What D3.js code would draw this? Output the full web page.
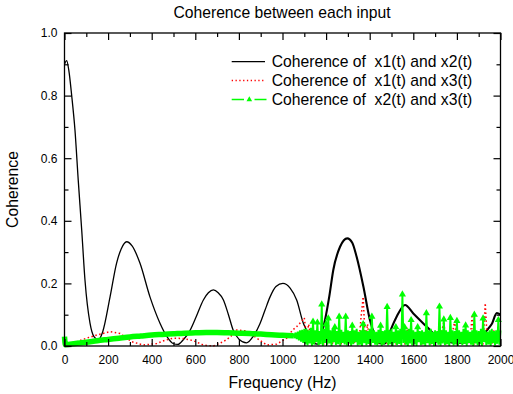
<!DOCTYPE html>
<html><head><meta charset="utf-8">
<script src="https://cdn.jsdelivr.net/npm/d3@7"></script>
<style>body{margin:0;background:#fff}svg{display:block}text{font-family:"Liberation Sans",Arial,sans-serif}</style>
</head><body><svg id="c" width="513" height="394"></svg>
<script>
// ---------- data ----------
const titleText = "Coherence between each input";
const xLabel = "Frequency (Hz)";
const yLabel = "Coherence";
const xTicks = [0,200,400,600,800,1000,1200,1400,1600,1800,2000];
const xMinor = [100,300,500,700,900,1100,1300,1500,1700,1900];
const yTicks = [0,0.2,0.4,0.6,0.8,1.0];
const yMinor = [0.1,0.3,0.5,0.7,0.9];
const legendLabels = ["Coherence of  x1(t) and x2(t)","Coherence of  x1(t) and x3(t)","Coherence of  x2(t) and x3(t)"];

// x1-x2 coherence (black)
const blackFreq = [0,10,20,33,48,63,79,94,117,135,155,175,209,239,260,285,310,346,392,438,470,498,520,545,576,605,637,660,683,705,729,752,774,800,835,865,897,920,943,970,1002,1035,1065,1096,1111,1140,1165,1195,1215,1233,1264,1297,1320,1340,1371,1401,1420,1440,1470,1493,1524,1562,1600,1646,1684,1710,1750,1800,1850,1900,1937,1960,1983,2000];
const blackVal  = [0.90,0.912,0.88,0.80,0.69,0.53,0.37,0.21,0.073,0.03,0.02,0.045,0.157,0.265,0.31,0.333,0.32,0.265,0.157,0.073,0.03,0.008,0.005,0.02,0.05,0.095,0.147,0.17,0.179,0.17,0.147,0.10,0.05,0.022,0.01,0.03,0.072,0.115,0.157,0.19,0.20,0.185,0.147,0.072,0.05,0.01,0.005,0.083,0.16,0.243,0.317,0.344,0.33,0.285,0.19,0.083,0.04,0.01,0.008,0.046,0.094,0.131,0.104,0.072,0.046,0.025,0.015,0.01,0.012,0.015,0.05,0.07,0.105,0.10];

// x1-x3 coherence (red), smooth part
const redFreq = [0,50,101,148,209,255,308,361,423,460,498,545,591,637,683,729,759,790,836,882,928,974,1019,1045,1065,1090];
const redVal  = [0.008,0.012,0.025,0.035,0.046,0.04,0.014,0.003,0.008,0.018,0.025,0.024,0.017,0.003,0.0,0.014,0.028,0.051,0.048,0.025,0.003,0.006,0.025,0.05,0.062,0.08];
// x1-x3 coherence (red), noisy part 1100..2000 every 10 Hz
const redNoise = [0.09,0.03,0.07,0.02,0.05,0.01,0.045,0.01,0.04,0.005,0.06,0.01,0.045,0.005,0.04,0.01,0.05,0.005,0.035,0.01,0.045,0.005,0.04,0.01,0.05,0.005,0.09,0.157,0.01,0.07,0.005,0.06,0.01,0.04,0.005,0.045,0.01,0.035,0.005,0.04,0.01,0.045,0.005,0.05,0.01,0.04,0.005,0.06,0.01,0.045,0.005,0.04,0.01,0.035,0.005,0.04,0.01,0.045,0.005,0.04,0.01,0.035,0.005,0.045,0.078,0.005,0.04,0.01,0.045,0.08,0.005,0.04,0.01,0.035,0.005,0.045,0.01,0.1,0.005,0.04,0.01,0.045,0.005,0.137,0.01,0.04,0.005,0.05,0.01,0.045,0.03];

// x2-x3 coherence (green), smooth part
const greenFreq = [0,4,50,100,150,200,250,300,350,400,450,500,550,600,650,700,750,800,850,900,950,1000,1050];
const greenVal  = [0.03,0.004,0.008,0.012,0.017,0.021,0.025,0.029,0.032,0.035,0.037,0.039,0.041,0.042,0.043,0.043,0.042,0.041,0.04,0.038,0.036,0.034,0.033];
// green noisy part: peaks every 10 Hz from 1050, troughs in between
const greenHi = [0.04,0.043,0.046,0.05,0.052,0.055,0.055,0.05,0.058,0.078,0.05,0.075,0.048,0.133,0.055,0.07,0.088,0.05,0.055,0.06,0.048,0.094,0.052,0.045,0.094,0.05,0.048,0.065,0.05,0.055,0.045,0.05,0.07,0.05,0.048,0.055,0.094,0.05,0.045,0.052,0.065,0.048,0.05,0.125,0.05,0.055,0.045,0.06,0.05,0.055,0.165,0.06,0.05,0.055,0.083,0.05,0.045,0.06,0.048,0.05,0.045,0.105,0.05,0.055,0.045,0.05,0.048,0.126,0.05,0.085,0.05,0.045,0.09,0.05,0.048,0.08,0.05,0.045,0.055,0.066,0.05,0.045,0.05,0.1,0.05,0.048,0.055,0.088,0.05,0.045,0.05,0.055,0.048,0.05,0.083,0.05];
const greenLo = [0.025,0.022,0.018,0.014,0.01,0.006,0.002,0.008,0.0,0.005,0.012,0.002,0.006,0.0,0.01,0.004,0.008,0.0,0.012,0.003,0.006,0.0,0.01,0.005,0.002,0.008,0.0,0.006,0.012,0.002,0.004,0.0,0.009,0.003,0.007,0.0,0.01,0.004,0.002,0.008,0.0,0.005,0.011,0.002,0.006,0.0,0.009,0.003,0.007,0.001,0.01,0.004,0.0,0.008,0.002,0.006,0.0,0.012,0.003,0.005,0.0,0.009,0.002,0.007,0.0,0.01,0.004,0.001,0.008,0.003,0.006,0.0,0.011,0.002,0.005,0.0,0.009,0.003,0.007,0.001,0.01,0.004,0.0,0.008,0.002,0.006,0.0,0.012,0.003,0.005,0.0,0.009,0.002,0.007,0.004];

// ---------- chart ----------
const svg = d3.select("#c");
const x = d3.scaleLinear().domain([0,2000]).range([64.5,500.5]);
const y = d3.scaleLinear().domain([0,1]).range([346,33]);
const FS = 15.7;

// black
const blackPts = blackFreq.map((f,i)=>[f,blackVal[i]]);
const lineM = d3.line().x(d=>x(d[0])).y(d=>y(d[1])).curve(d3.curveMonotoneX);
const lineL = d3.line().x(d=>x(d[0])).y(d=>y(d[1]));
svg.append("path").attr("d",lineM(blackPts.filter(d=>d[0]<=1165))).attr("fill","none").attr("stroke","#000").attr("stroke-width",1.3);
svg.append("path").attr("d",lineM(blackPts.filter(d=>d[0]>=1165))).attr("fill","none").attr("stroke","#000").attr("stroke-width",2.1);

// red
const redPts = redFreq.map((f,i)=>[f,redVal[i]]).concat(redNoise.map((v,i)=>[1100+10*i,v]));
svg.append("path").attr("d",lineL(redPts)).attr("fill","none").attr("stroke","#ff0000").attr("stroke-width",1.5).attr("stroke-dasharray","1.5,2.5");

// green smooth
const greenPts = greenFreq.map((f,i)=>[f,greenVal[i]]);
svg.append("path").attr("d",lineM(greenPts)).attr("fill","none").attr("stroke","#00ff00").attr("stroke-width",5.5).attr("stroke-linejoin","round");
// green noisy zigzag
const gz = [];
greenHi.forEach((v,i)=>{gz.push([1050+10*i,v]); if(i<greenLo.length) gz.push([1055+10*i,greenLo[i]]);});
svg.append("path").attr("d",lineL(gz)).attr("fill","none").attr("stroke","#00ff00").attr("stroke-width",1.9);
const tri = d3.symbol().type(d3.symbolTriangle).size(22);
svg.selectAll(".gm").data(greenHi.map((v,i)=>[1050+10*i,v]).filter(d=>d[1]>0.058)).enter().append("path")
  .attr("d",tri).attr("transform",d=>`translate(${x(d[0])},${y(d[1])})`).attr("fill","#00ff00");

// frame
svg.append("rect").attr("x",64.5).attr("y",33).attr("width",436).attr("height",313).attr("fill","none").attr("stroke","#000").attr("stroke-width",1.3);

function ax(gen, tv, size, fmt, pad, tr){
  const g = svg.append("g").attr("transform",tr).call(gen.tickValues(tv).tickSize(size).tickPadding(pad).tickFormat(fmt));
  g.select(".domain").remove();
  g.selectAll("line").attr("stroke","#000").attr("stroke-width",1.2);
  g.selectAll("text").attr("font-size",12).attr("fill","#000").style("font-family",'"Liberation Sans",Arial,sans-serif');
  return g;
}
ax(d3.axisBottom(x), xTicks, -7, d3.format("d"), 9, "translate(0,346)");
ax(d3.axisBottom(x), xMinor, -4, "", 9, "translate(0,346)");
ax(d3.axisTop(x), xTicks, -7, "", 3, "translate(0,33)");
ax(d3.axisTop(x), xMinor, -4, "", 3, "translate(0,33)");
ax(d3.axisLeft(y), yTicks, -7, d3.format(".1f"), 7, "translate(64.5,0)");
ax(d3.axisLeft(y), yMinor, -4, "", 7, "translate(64.5,0)");
ax(d3.axisRight(y), yTicks, -7, "", 3, "translate(500.5,0)");
ax(d3.axisRight(y), yMinor, -4, "", 3, "translate(500.5,0)");

// texts
svg.append("text").attr("x",282).attr("y",17.5).attr("text-anchor","middle").attr("font-size",FS).text(titleText);
svg.append("text").attr("x",282.5).attr("y",388).attr("text-anchor","middle").attr("font-size",FS).text(xLabel);
svg.append("text").attr("transform","translate(17.5,189.5) rotate(-90)").attr("text-anchor","middle").attr("font-size",FS).text(yLabel);

// legend
const ly = [61.7,80.5,99.5];
const lg = svg.append("g");
lg.append("line").attr("x1",231.7).attr("x2",265).attr("y1",ly[0]).attr("y2",ly[0]).attr("stroke","#000").attr("stroke-width",1.2);
lg.append("line").attr("x1",231.7).attr("x2",265).attr("y1",ly[1]).attr("y2",ly[1]).attr("stroke","#ff0000").attr("stroke-width",1.3).attr("stroke-dasharray","1.3,2.5");
lg.append("line").attr("x1",231.7).attr("x2",244).attr("y1",ly[2]).attr("y2",ly[2]).attr("stroke","#00ff00").attr("stroke-width",1.5);
lg.append("line").attr("x1",254.5).attr("x2",266.5).attr("y1",ly[2]).attr("y2",ly[2]).attr("stroke","#00ff00").attr("stroke-width",1.5);
lg.append("path").attr("d",d3.symbol().type(d3.symbolTriangle).size(14)()).attr("transform",`translate(249.3,${ly[2]})`).attr("fill","#00ff00");
lg.selectAll("text").data(legendLabels).enter().append("text")
  .attr("x",271.7).attr("y",(d,i)=>ly[i]+5.6).attr("font-size",FS).style("white-space","pre").text(d=>d);
</script></body></html>
